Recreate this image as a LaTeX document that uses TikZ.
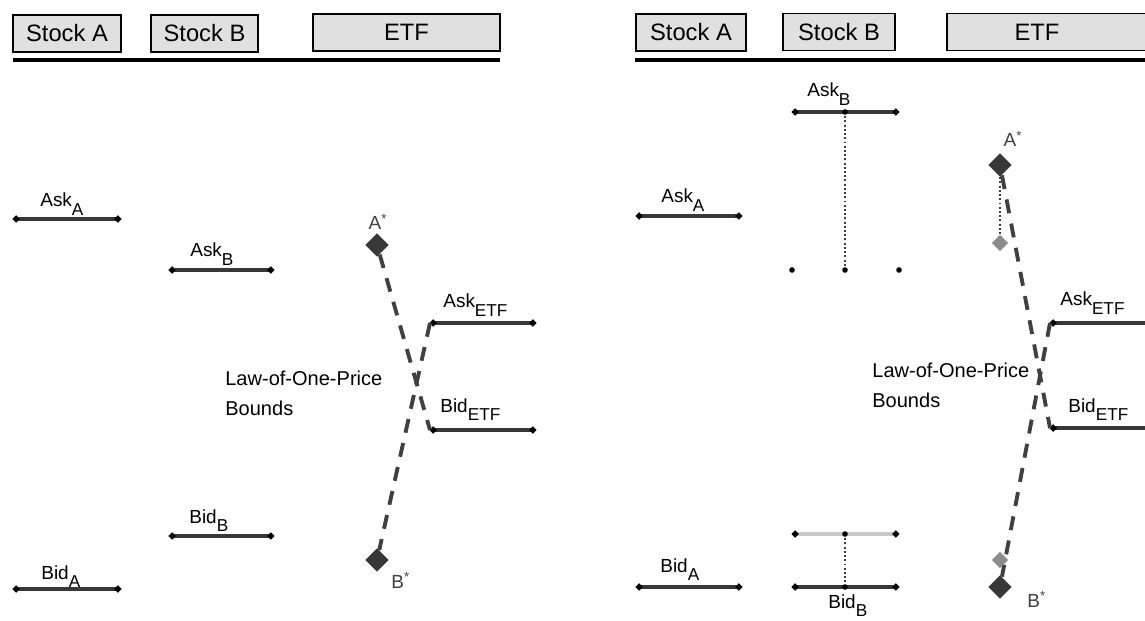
\documentclass[tikz,border=0pt]{standalone}
\usepackage{fontspec}
\setmainfont{Liberation Sans}
\usetikzlibrary{arrows.meta, shapes.geometric}

\newcommand{\lowsub}[1]{\raisebox{-4.8pt}{\fontsize{9.8}{10}\selectfont #1}}

\begin{document}
\begin{tikzpicture}[x=0.02cm, y=-0.02cm,
    tab/.style={draw=black, line width=1.1pt, fill=black!12, inner sep=0pt, minimum height=0.74cm, font=\fontsize{13.5}{15}\selectfont},
    rule/.style={line width=2.2pt},
    price/.style={line width=2.2pt, black!78, {Circle[length=3.6pt, color=black]}-{Circle[length=3.6pt, color=black]}},
    oldprice/.style={price, black!22},
    bound/.style={line width=2.2pt, black!75, dash pattern=on 8pt off 6pt},
    moveline/.style={line width=1.4pt, black!75, dash pattern=on 1.1pt off 1.3pt},
    lbl/.style={anchor=base west, inner sep=0pt, font=\fontsize{10.8}{12}\selectfont},
    starlbl/.style={inner sep=0pt, black!75, font=\fontsize{10.8}{12}\selectfont},
    lop/.style={anchor=north west, inner sep=0pt, align=left, font=\fontsize{11.4}{17}\selectfont},
    fairpt/.style={diamond, fill=black!78, inner sep=0pt, minimum size=13.5pt},
    oldfairpt/.style={diamond, fill=black!45, inner sep=0pt, minimum size=9.5pt},
    enddot/.style={circle, fill=black, inner sep=0pt, minimum size=3.2pt}]
  \useasboundingbox (0,0) rectangle (1145,621);

  % left panel
  \node[tab, minimum width=2.16cm] (stockA1) at (67,33.5) {Stock A};
  \node[tab, minimum width=2.14cm] (stockB1) at (204.5,33.5) {Stock B};
  \node[tab, minimum width=3.74cm] (etf1) at (406.5,32.5) {ETF};
  \coordinate (rule1a) at (13,60);
  \coordinate (rule1b) at (500,60);
  \draw[rule] (rule1a) -- (rule1b);

  \coordinate (askA1a) at (13,219);
  \coordinate (askA1b) at (121,219);
  \coordinate (askB1a) at (169,270);
  \coordinate (askB1b) at (274,270);
  \coordinate (bidB1a) at (169,536);
  \coordinate (bidB1b) at (274,536);
  \coordinate (bidA1a) at (13,589);
  \coordinate (bidA1b) at (121,589);
  \coordinate (askE1a) at (430,323);
  \coordinate (askE1b) at (536,323);
  \coordinate (bidE1a) at (430,430);
  \coordinate (bidE1b) at (536,430);

  \draw[price] (askA1a) -- (askA1b);
  \draw[price] (askB1a) -- (askB1b);
  \draw[price] (bidB1a) -- (bidB1b);
  \draw[price] (bidA1a) -- (bidA1b);
  \draw[price] (askE1a) -- (askE1b);
  \draw[price] (bidE1a) -- (bidE1b);

  \node[lbl] (askAl1) at (40,207) {Ask\lowsub{A}};
  \node[lbl] (askBl1) at (190,257) {Ask\lowsub{B}};
  \node[lbl] (bidBl1) at (189,523) {Bid\lowsub{B}};
  \node[lbl] (bidAl1) at (41,579) {Bid\lowsub{A}};
  \node[lbl] (askEl1) at (443,308) {Ask\lowsub{ETF}};
  \node[lbl] (bidEl1) at (440,412) {Bid\lowsub{ETF}};

  \node[fairpt] (astar1) at (377,245) {};
  \node[fairpt] (bstar1) at (377,560) {};
  \draw[bound] (astar1) -- (bidE1a);
  \draw[bound] (askE1a) -- (bstar1);
  \node[starlbl, anchor=base] (astarl1) at (378,230) {A\textsuperscript{*}};
  \node[starlbl, anchor=base west] (bstarl1) at (391,588) {B\textsuperscript{*}};
  \node[lop] (lop1) at (225,370.3) {Law-of-One-Price\\Bounds};

  % right panel
  \node[tab, minimum width=2.2cm] (stockA2) at (691,32.5) {Stock A};
  \node[tab, minimum width=2.24cm] (stockB2) at (839,32) {Stock B};
  \node[tab, minimum width=4.26cm] (etf2) at (1053.5,32) {};
  \node[inner sep=0pt, font=\fontsize{13.5}{15}\selectfont] (etf2l) at (1037,32) {ETF};
  \coordinate (rule2a) at (635,60);
  \coordinate (rule2b) at (1165,60);
  \draw[rule] (rule2a) -- (rule2b);

  \coordinate (askA2a) at (636,216);
  \coordinate (askA2b) at (742,216);
  \coordinate (askB2a) at (792,112);
  \coordinate (askB2m) at (845,112);
  \coordinate (askB2b) at (899,112);
  \coordinate (oldB2a) at (792,270);
  \coordinate (oldB2m) at (845,270);
  \coordinate (oldB2b) at (899,270);
  \coordinate (bidA2a) at (636,587);
  \coordinate (bidA2b) at (742,587);
  \coordinate (obidB2a) at (792,534);
  \coordinate (obidB2m) at (845,534);
  \coordinate (obidB2b) at (899,534);
  \coordinate (bidB2a) at (792,587);
  \coordinate (bidB2m) at (845,587);
  \coordinate (bidB2b) at (899,587);
  \coordinate (askE2a) at (1050,323);
  \coordinate (askE2b) at (1170,323);
  \coordinate (bidE2a) at (1050,428);
  \coordinate (bidE2b) at (1170,428);

  \draw[moveline] (askB2m) -- (oldB2m);
  \draw[moveline] (obidB2m) -- (bidB2m);
  \draw[price] (askA2a) -- (askA2b);
  \draw[price] (askB2a) -- (askB2b);
  \draw[price] (bidA2a) -- (bidA2b);
  \draw[oldprice] (obidB2a) -- (obidB2b);
  \draw[price] (bidB2a) -- (bidB2b);
  \draw[price] (askE2a) -- (askE2b);
  \draw[price] (bidE2a) -- (bidE2b);
  \foreach \p in {askB2m, oldB2a, oldB2m, oldB2b, obidB2m, bidB2m}
    \node[enddot] at (\p) {};

  \node[lbl] (askAl2) at (661,203) {Ask\lowsub{A}};
  \node[lbl] (askBl2) at (807,97) {Ask\lowsub{B}};
  \node[lbl] (bidAl2) at (660,572) {Bid\lowsub{A}};
  \node[lbl] (bidBl2) at (828,608) {Bid\lowsub{B}};
  \node[lbl] (askEl2) at (1060,306) {Ask\lowsub{ETF}};
  \node[lbl] (bidEl2) at (1068,412) {Bid\lowsub{ETF}};

  \node[fairpt] (astar2) at (1000,165) {};
  \node[oldfairpt] (oastar2) at (1000,243) {};
  \node[fairpt] (bstar2) at (1000,587) {};
  \draw[moveline] (astar2) -- (oastar2);
  \draw[bound] (astar2) -- (bidE2a);
  \draw[bound] (askE2a) -- (bstar2);
  \node[oldfairpt] (obstar2) at (1000,560) {};
  \node[starlbl, anchor=base] (astarl2) at (1013,147) {A\textsuperscript{*}};
  \node[starlbl, anchor=base west] (bstarl2) at (1027,607) {B\textsuperscript{*}};
  \node[lop] (lop2) at (872,362.3) {Law-of-One-Price\\Bounds};
\end{tikzpicture}
\end{document}
